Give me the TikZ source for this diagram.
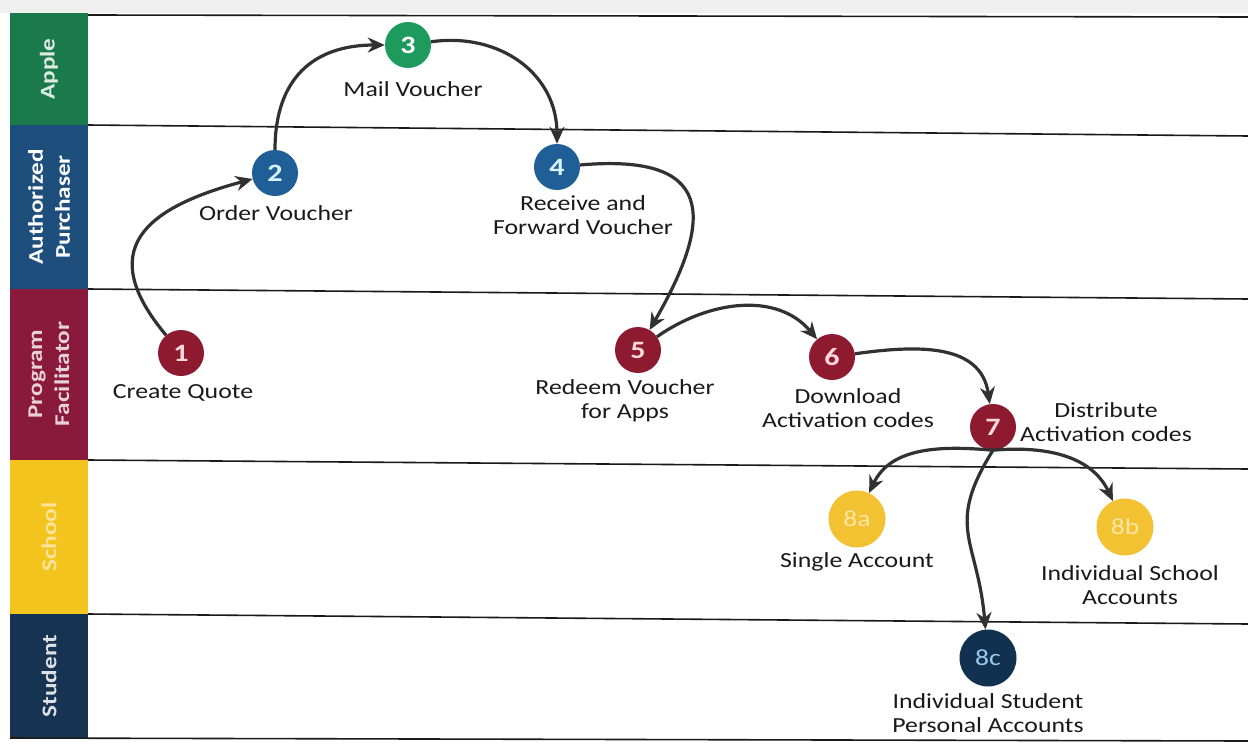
\documentclass[tikz,border=0pt]{standalone}
\usepackage{fontspec}
\setmainfont{Carlito}[FakeStretch=1.2]
\usetikzlibrary{arrows.meta}
\definecolor{applegreen}{HTML}{1B7A4B}
\definecolor{greencirc}{HTML}{1E9A5C}
\definecolor{apblue}{HTML}{1D4E7C}
\definecolor{bluecirc}{HTML}{1F5E96}
\definecolor{pfred}{HTML}{8A1A3C}
\definecolor{redcirc}{HTML}{8E1A2F}
\definecolor{schoolyel}{HTML}{F4C41E}
\definecolor{yelcirc}{HTML}{F3C233}
\definecolor{yeltext}{HTML}{FBE6A2}
\definecolor{stunavy}{HTML}{163352}
\definecolor{navycirc}{HTML}{12304F}
\definecolor{navytext}{HTML}{9CCBEA}
\definecolor{inkc}{HTML}{1A1A1A}
\tikzset{
  lanelabel/.style={rotate=90, align=center, text=white, font=\bfseries\fontsize{21}{27}\selectfont},
  laneline/.style={draw=inkc, line width=1.6pt},
  circ/.style={circle, minimum size=46pt, inner sep=0pt, font=\bfseries\fontsize{25}{25}\selectfont},
  bigcirc/.style={circle, minimum size=57pt, inner sep=0pt, font=\fontsize{23}{23}\selectfont},
  lbl/.style={align=center, text=inkc, font=\fontsize{21.5}{24}\selectfont, inner sep=0pt},
  flow/.style={draw=inkc!90!white, line width=3.2pt, -{Stealth[length=17pt,width=15pt]}}
}
\begin{document}
\begin{tikzpicture}[x=1pt,y=1pt]
\useasboundingbox (0,0) rectangle (1248,-744);
\fill[white] (0,0) rectangle (1248,-744);
\fill[gray!12] (0,0) rectangle (1248,-13);
% lane label column
\fill[applegreen] (10,-13) rectangle (88,-125);
\fill[apblue] (10,-125) rectangle (88,-289);
\fill[pfred] (10,-289) rectangle (88,-460);
\fill[schoolyel] (10,-460) rectangle (88,-614);
\fill[stunavy] (10,-614) rectangle (88,-738);
\node[lanelabel, text=white!85!applegreen] (lapple) at (49,-69) {Apple};
\node[lanelabel] (lap) at (49,-207) {Authorized\\Purchaser};
\node[lanelabel, text=white!80!pfred] (lpf) at (49,-374) {Program\\Facilitator};
\node[lanelabel, text=white!55!schoolyel] (lsch) at (49,-537) {School};
\node[lanelabel, text=white!85!stunavy] (lstu) at (49,-676) {Student};
% lane lines
\draw[laneline] (88,-15) -- (1248,-17);
\draw[laneline] (88,-125) -- (1248,-136);
\draw[laneline] (88,-289) -- (1248,-299);
\draw[laneline] (88,-460) -- (1248,-469);
\draw[laneline] (88,-614) -- (1248,-624);
\draw[laneline] (10,-738) -- (1248,-741);
% steps
\node[circ, fill=redcirc, text=white!85!red] (n1) at (181,-353) {1};
\node[circ, fill=bluecirc, text=white!85!cyan] (n2) at (275,-173) {2};
\node[circ, fill=greencirc, text=white] (n3) at (408,-45) {3};
\node[circ, fill=bluecirc, text=white!85!cyan] (n4) at (557,-167) {4};
\node[circ, fill=redcirc, text=white!85!red] (n5) at (638,-350) {5};
\node[circ, fill=redcirc, text=white!85!red] (n6) at (832,-357) {6};
\node[circ, fill=redcirc, text=white!85!red] (n7) at (993,-427) {7};
\node[bigcirc, fill=yelcirc, text=yeltext] (n8a) at (857,-519) {8a};
\node[bigcirc, fill=yelcirc, text=yeltext] (n8b) at (1125,-527) {8b};
\node[bigcirc, fill=navycirc, text=navytext] (n8c) at (988,-658) {8c};
% labels
\node[lbl] (t1) at (183,-393) {Create Quote};
\node[lbl] (t2) at (276,-213) {Order Voucher};
\node[lbl] (t3) at (413,-89) {Mail Voucher};
\node[lbl] (t4) at (583,-215) {Receive and\\Forward Voucher};
\node[lbl] (t5) at (625,-401) {Redeem Voucher\\for Apps};
\node[lbl] (t6) at (848,-408) {Download\\Activation codes};
\node[lbl] (t7) at (1106,-422) {Distribute\\Activation codes};
\node[lbl] (t8a) at (857,-562) {Single Account};
\node[lbl] (t8b) at (1130,-585) {Individual School\\Accounts};
\node[lbl] (t8c) at (988,-713) {Individual Student\\Personal Accounts};
% connectors
\draw[flow] (n1) to[out=130,in=195,looseness=1.6] (n2);
\draw[flow] (n2) to[out=90,in=180,looseness=1.2] (n3);
\draw[flow] (n3) to[out=8,in=90,looseness=1.1] (n4);
\draw[flow] (n4) to[out=5,in=60,looseness=1.9] (n5);
\draw[flow] (n5) to[out=35,in=130] (n6);
\draw[flow] (n6) to[out=8,in=98,looseness=1.1] (n7);
\draw[flow] (n7.south) to[out=175,in=65] (n8a);
\draw[flow] (n7.south) to[out=5,in=115] (n8b);
\draw[flow] (n7.south) to[out=238,in=95,looseness=1.3] (n8c);
\end{tikzpicture}
\end{document}
